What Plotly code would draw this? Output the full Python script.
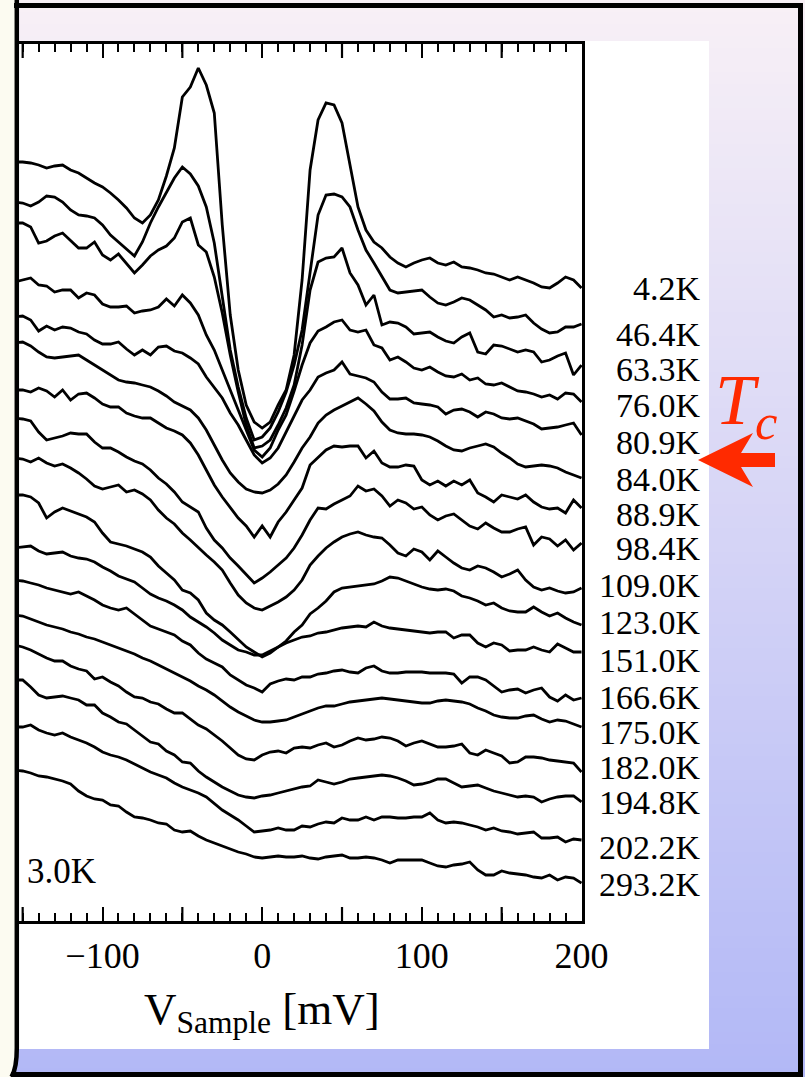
import plotly.graph_objects as go

# ---------------- data ----------------
V_MV = [-155, -150, -145, -140, -135, -130, -125, -120, -115, -110, -105, -100,
        -95, -90, -85, -80, -75, -70, -65, -60, -55, -50, -45, -40, -35, -30,
        -25, -20, -15, -10, -5, 0, 5, 10, 15, 20, 25, 30, 35, 40, 45, 50, 55,
        60, 65, 70, 75, 80, 85, 90, 95, 100, 105, 110, 115, 120, 125, 130, 135,
        140, 145, 150, 155, 160, 165, 170, 175, 180, 185, 190, 195, 200]

TEMPS = ["4.2K", "46.4K", "63.3K", "76.0K", "80.9K", "84.0K", "88.9K", "98.4K",
         "109.0K", "123.0K", "151.0K", "166.6K", "175.0K", "182.0K", "194.8K",
         "202.2K", "293.2K"]

# dI/dV spectra, vertically offset (arbitrary units)
S_4_2 = [75.9, 75.9, 75.8, 75.6, 75.3, 75.5, 75.6, 75.1, 74.8, 74.3, 73.8, 73.4, 72.8, 72.1, 71.3, 70.3, 69.8, 70.6, 72.1, 74.5, 77.3, 82.4, 83.4, 85.3, 83.6, 80.8, 69.6, 60.6, 55.1, 51.6, 49.9, 49.3, 49.9, 51.6, 53.1, 56.6, 64.1, 75.1, 80.1, 81.8, 81.6, 79.8, 75.4, 71.4, 69.1, 67.9, 67.3, 66.4, 65.8, 65.4, 65.8, 66.1, 66.3, 65.8, 65.6, 65.9, 65.4, 65.3, 65.1, 64.8, 64.7, 64.4, 64.1, 64.4, 64.1, 63.8, 63.4, 63.3, 63.8, 64.4, 64.1, 63.3]
S_46_4 = [71.9, 71.8, 71.5, 71.9, 72.5, 72.4, 71.9, 71.1, 70.6, 70.5, 70.3, 69.6, 68.6, 67.9, 67.2, 66.5, 67.9, 69.8, 71.4, 72.8, 74.3, 75.4, 74.7, 73.5, 71.4, 67.8, 62.4, 57.1, 53.4, 50.3, 48.1, 48.4, 49.3, 50.9, 52.9, 55.6, 59.1, 64.6, 70.6, 72.6, 72.7, 72.4, 71.4, 69.1, 67.1, 65.8, 64.4, 63.1, 62.8, 62.9, 63.0, 63.1, 62.4, 61.8, 61.6, 61.9, 62.3, 62.1, 61.6, 61.1, 60.4, 60.6, 60.3, 60.4, 60.6, 59.8, 59.2, 58.8, 58.9, 59.4, 59.4, 59.7]
S_63_3 = [69.8, 69.8, 69.4, 67.8, 68.0, 68.5, 68.8, 68.0, 67.3, 67.3, 67.9, 66.6, 66.1, 66.7, 65.8, 64.8, 65.6, 66.5, 67.1, 67.5, 68.3, 69.9, 70.3, 67.6, 66.9, 64.4, 60.8, 56.6, 52.9, 49.6, 47.3, 47.5, 48.1, 49.6, 51.3, 53.6, 57.6, 63.1, 65.9, 66.3, 66.4, 67.3, 64.8, 63.6, 61.6, 62.6, 59.6, 59.9, 59.8, 59.4, 58.7, 58.8, 58.9, 58.4, 58.0, 57.8, 58.4, 58.8, 56.9, 56.7, 57.6, 57.5, 57.2, 56.9, 57.1, 56.9, 55.9, 56.1, 56.5, 56.8, 54.6, 55.6]
S_76_0 = [63.9, 64.1, 64.3, 63.6, 63.5, 62.9, 63.1, 63.1, 62.3, 62.8, 62.6, 61.7, 61.4, 61.4, 61.5, 60.8, 61.0, 61.1, 61.4, 62.2, 61.5, 62.6, 61.8, 60.6, 58.6, 57.1, 55.1, 53.1, 51.1, 49.1, 47.1, 46.4, 47.3, 49.1, 50.6, 53.0, 55.6, 57.8, 59.0, 59.4, 59.9, 60.1, 59.1, 58.9, 59.1, 57.6, 57.3, 56.1, 56.4, 55.9, 55.3, 55.1, 55.4, 54.9, 54.5, 54.4, 54.7, 54.1, 54.3, 53.7, 53.6, 53.8, 53.4, 53.0, 52.9, 52.7, 52.4, 52.6, 52.2, 52.8, 52.7, 51.9]
S_80_9 = [60.4, 60.5, 60.1, 59.0, 59.5, 59.1, 59.4, 59.3, 58.9, 58.7, 58.1, 57.7, 57.7, 57.9, 57.2, 56.6, 57.1, 56.6, 57.4, 57.5, 57.0, 56.8, 56.3, 55.7, 54.4, 53.3, 52.3, 50.8, 49.6, 48.1, 46.6, 45.8, 46.3, 47.3, 48.9, 50.6, 52.1, 53.1, 54.4, 54.8, 55.1, 55.9, 54.7, 54.5, 54.3, 53.9, 52.9, 52.2, 52.2, 52.3, 51.8, 51.7, 51.6, 51.4, 50.7, 51.1, 51.2, 50.9, 50.4, 50.9, 50.7, 50.3, 50.2, 50.3, 50.0, 49.7, 49.2, 49.3, 49.4, 49.6, 49.8, 48.6]
S_84_0 = [57.8, 57.9, 57.5, 56.9, 56.4, 56.3, 56.4, 56.5, 56.6, 56.1, 55.6, 55.1, 54.6, 54.1, 53.9, 53.8, 53.6, 53.4, 53.0, 52.5, 51.9, 51.5, 51.1, 50.3, 49.1, 47.6, 46.1, 44.8, 43.9, 43.2, 42.9, 42.8, 43.1, 43.7, 44.6, 45.9, 47.3, 48.4, 49.8, 50.6, 51.1, 51.5, 51.9, 52.3, 51.7, 51.0, 49.9, 49.1, 48.8, 48.7, 48.7, 48.6, 48.4, 48.0, 47.5, 47.1, 47.0, 47.3, 47.5, 47.7, 47.4, 46.8, 46.3, 45.7, 45.4, 45.5, 45.6, 45.5, 45.3, 44.9, 44.6, 44.3]
S_88_9 = [53.1, 53.1, 52.9, 53.3, 53.0, 52.4, 53.1, 52.1, 52.7, 52.8, 52.3, 51.7, 51.4, 51.4, 50.8, 50.5, 50.3, 50.3, 49.8, 49.3, 49.0, 48.6, 47.8, 46.6, 45.1, 43.6, 42.4, 41.3, 40.3, 39.5, 38.4, 39.5, 38.4, 39.9, 40.9, 42.1, 43.3, 45.6, 46.4, 47.1, 47.5, 47.4, 47.5, 47.5, 46.3, 47.0, 45.8, 45.4, 45.4, 45.6, 45.5, 44.1, 43.6, 44.0, 43.5, 44.0, 43.6, 44.1, 42.8, 42.4, 41.9, 42.6, 42.4, 42.2, 42.6, 41.9, 41.4, 41.2, 41.3, 40.8, 42.1, 41.3]
S_98_4 = [50.3, 50.2, 50.0, 48.9, 48.1, 48.3, 48.5, 48.8, 48.7, 48.7, 47.9, 47.3, 47.3, 46.9, 46.4, 46.0, 45.7, 45.1, 44.3, 43.7, 42.9, 41.9, 41.4, 40.9, 39.3, 38.1, 37.3, 36.3, 35.5, 34.6, 33.8, 34.3, 34.9, 35.6, 36.3, 37.3, 38.6, 40.1, 41.3, 41.2, 41.7, 42.1, 42.5, 43.5, 43.0, 43.2, 42.5, 41.5, 42.1, 41.8, 41.2, 41.4, 40.6, 40.1, 40.5, 40.7, 40.1, 39.5, 39.2, 39.8, 39.3, 38.9, 38.9, 39.2, 39.4, 37.6, 38.4, 38.2, 37.5, 38.1, 37.1, 37.8]
S_109_0 = [46.3, 46.2, 45.9, 46.3, 45.8, 45.5, 45.7, 45.3, 44.8, 44.2, 43.5, 43.2, 43.4, 43.6, 42.9, 43.1, 42.7, 42.1, 41.1, 40.3, 39.7, 38.8, 38.1, 37.3, 36.6, 35.9, 35.1, 33.8, 32.6, 31.8, 31.3, 31.1, 31.5, 31.9, 32.4, 33.1, 34.1, 35.6, 36.5, 37.3, 37.9, 38.4, 38.7, 38.9, 38.6, 38.4, 38.3, 37.6, 36.8, 36.5, 37.2, 36.9, 36.1, 37.0, 36.4, 35.8, 35.3, 35.1, 35.5, 35.3, 34.9, 34.4, 34.7, 35.1, 34.1, 33.4, 33.1, 33.3, 33.0, 32.8, 32.9, 33.3]
S_123_0 = [42.6, 42.6, 42.4, 41.8, 40.3, 40.9, 41.3, 41.0, 40.7, 40.4, 39.9, 38.8, 37.9, 37.7, 37.5, 37.2, 36.9, 36.4, 35.5, 34.8, 34.1, 33.1, 32.8, 32.1, 30.8, 30.1, 29.6, 28.9, 28.1, 27.4, 26.9, 26.4, 26.8, 27.4, 28.0, 28.9, 29.6, 30.7, 31.3, 32.0, 32.9, 33.3, 33.4, 33.5, 33.6, 33.7, 34.0, 34.4, 34.3, 34.0, 33.7, 33.4, 33.2, 33.1, 33.2, 33.0, 32.5, 32.3, 32.0, 31.6, 31.8, 31.3, 31.0, 30.9, 30.9, 31.4, 30.9, 30.5, 30.8, 30.3, 29.9, 29.6]
S_151_0 = [37.3, 37.4, 37.5, 37.0, 36.7, 36.8, 36.9, 36.5, 36.3, 36.2, 35.9, 35.4, 35.0, 34.5, 34.2, 33.9, 33.3, 32.7, 32.3, 32.0, 31.6, 31.1, 30.4, 29.9, 29.4, 28.8, 28.1, 27.6, 27.1, 26.9, 26.6, 26.6, 27.0, 27.4, 27.8, 28.1, 28.4, 28.5, 28.8, 28.9, 29.1, 29.3, 29.4, 29.5, 29.4, 29.9, 29.5, 29.3, 29.2, 29.1, 29.0, 28.9, 28.8, 28.9, 28.9, 28.3, 28.6, 28.6, 27.8, 27.4, 27.8, 27.6, 27.0, 27.1, 27.1, 27.4, 27.1, 26.9, 27.7, 27.3, 26.9, 26.9]
S_166_6 = [34.1, 34.0, 33.8, 33.6, 33.3, 33.1, 32.9, 32.7, 32.9, 32.5, 32.1, 31.6, 31.3, 31.1, 31.3, 30.7, 30.1, 29.5, 29.2, 28.9, 28.6, 28.0, 27.6, 26.8, 26.2, 25.8, 25.4, 24.6, 24.1, 23.6, 23.3, 22.9, 23.7, 24.0, 24.2, 24.1, 24.4, 24.4, 24.7, 24.8, 25.0, 25.1, 24.9, 24.8, 25.3, 25.5, 25.0, 24.8, 24.8, 24.9, 24.9, 24.9, 24.8, 24.8, 24.8, 24.7, 23.8, 24.4, 24.4, 24.1, 23.5, 22.9, 23.1, 23.2, 22.8, 23.1, 23.3, 22.4, 22.0, 22.6, 22.1, 22.3]
S_175_0 = [30.6, 30.5, 30.2, 29.9, 29.6, 29.4, 29.2, 28.9, 28.7, 28.4, 28.2, 27.9, 27.6, 27.3, 27.0, 26.7, 26.3, 26.0, 25.6, 25.2, 24.8, 24.4, 24.0, 23.5, 23.1, 22.6, 22.0, 21.4, 20.9, 20.5, 20.1, 19.9, 19.9, 20.0, 20.1, 20.4, 20.7, 21.0, 21.3, 21.5, 21.5, 21.7, 21.9, 22.0, 22.1, 22.2, 22.3, 22.2, 22.1, 22.0, 21.9, 21.8, 21.8, 22.0, 22.1, 22.0, 21.9, 21.7, 21.3, 21.0, 20.6, 20.4, 20.3, 20.3, 20.5, 20.6, 20.2, 19.9, 20.1, 20.0, 19.7, 19.4]
S_182_0 = [27.6, 27.4, 27.1, 26.7, 26.3, 26.0, 26.0, 25.5, 25.2, 25.0, 24.2, 24.4, 23.9, 23.5, 22.9, 22.4, 22.3, 21.9, 21.7, 21.2, 20.8, 20.8, 20.2, 19.6, 19.2, 18.6, 18.0, 17.3, 16.6, 16.2, 16.1, 16.6, 16.9, 17.0, 16.8, 17.3, 17.4, 17.3, 17.6, 17.8, 17.4, 17.6, 18.0, 18.3, 18.1, 18.2, 18.4, 18.3, 18.0, 17.5, 17.8, 18.0, 17.7, 17.4, 17.4, 17.5, 17.7, 16.8, 16.6, 17.1, 16.8, 16.5, 15.8, 15.9, 16.4, 16.4, 16.3, 16.1, 16.0, 15.9, 15.8, 14.9]
S_194_8 = [24.1, 24.1, 23.4, 22.6, 22.3, 22.4, 22.5, 22.3, 22.1, 21.6, 21.6, 20.8, 20.4, 19.9, 19.7, 19.1, 18.5, 17.9, 17.7, 17.0, 16.6, 15.9, 15.8, 15.0, 14.4, 13.9, 13.4, 13.0, 12.6, 12.4, 12.3, 12.5, 12.6, 12.8, 13.0, 13.2, 13.4, 13.5, 14.1, 13.9, 13.7, 13.9, 14.2, 14.3, 14.4, 14.5, 14.6, 14.5, 14.3, 14.0, 13.6, 13.7, 13.9, 14.2, 14.2, 13.8, 13.4, 13.5, 13.6, 13.3, 13.0, 12.8, 12.6, 12.4, 12.5, 12.4, 11.9, 12.2, 12.4, 12.5, 12.5, 11.9]
S_202_2 = [19.4, 19.4, 19.6, 19.1, 18.8, 18.6, 18.8, 18.4, 18.1, 17.8, 17.4, 16.9, 16.6, 16.4, 16.1, 15.7, 15.3, 14.9, 14.6, 14.3, 13.8, 13.4, 13.1, 12.8, 12.4, 11.7, 11.1, 10.6, 10.1, 9.5, 8.9, 9.0, 9.1, 9.3, 9.1, 9.1, 9.5, 9.4, 9.7, 9.9, 9.8, 10.3, 10.1, 10.1, 10.4, 10.1, 10.4, 10.4, 10.3, 10.3, 10.4, 10.4, 10.8, 10.1, 9.8, 9.9, 9.8, 9.6, 9.4, 9.1, 9.3, 9.0, 8.9, 8.7, 8.8, 8.9, 8.3, 8.3, 8.4, 7.9, 8.2, 8.1]
S_293_2 = [15.1, 15.0, 14.8, 14.5, 14.4, 14.2, 14.0, 13.7, 13.0, 12.5, 12.2, 12.1, 11.6, 11.5, 10.9, 10.4, 10.3, 10.1, 9.8, 9.7, 9.1, 8.9, 9.0, 8.5, 8.1, 7.8, 7.5, 7.2, 6.9, 6.7, 6.4, 6.3, 6.4, 6.5, 6.4, 6.4, 6.5, 6.3, 6.2, 6.4, 6.5, 6.6, 6.3, 6.3, 6.4, 6.3, 6.1, 5.8, 6.1, 6.1, 6.1, 6.1, 5.8, 5.5, 5.4, 5.6, 5.7, 5.9, 5.1, 4.6, 4.6, 5.0, 4.8, 4.7, 4.6, 4.4, 4.3, 4.6, 4.1, 4.4, 4.3, 3.8]

SPECTRA = [S_4_2, S_46_4, S_63_3, S_76_0, S_80_9, S_84_0, S_88_9, S_98_4,
           S_109_0, S_123_0, S_151_0, S_166_6, S_175_0, S_182_0, S_194_8,
           S_202_2, S_293_2]

# where each temperature label sits (same units as the spectra)
LABEL_Y = [63.3, 58.7, 55.2, 51.6, 47.9, 44.2, 40.7, 37.3, 33.6, 29.9, 26.1,
           22.4, 18.9, 15.4, 11.9, 7.4, 3.7]

LABELED_TICKS = [-100, 0, 100, 200]
LABELED_TEXT = ["\u2212100", "0", "100", "200"]
UNLABELED_MAJOR = [-150, -50, 50, 150]

# ---------------- layout geometry (pixels of the 805x1077 page) ----------------
W, H = 805, 1077
PL, PR, PT, PB = 19, 582, 44, 921
SERIF = "Liberation Serif, Times New Roman, serif"
MAJOR_LEN, MINOR_LEN = 14, 8


def xp(px):
    return (px - PL) / (PR - PL)


def yp(py):
    return (PB - py) / (PB - PT)


fig = go.Figure()
for name, s in zip(TEMPS, SPECTRA):
    fig.add_trace(go.Scatter(x=V_MV, y=s, mode="lines", name=name,
                             line=dict(color="black", width=2.8),
                             hoverinfo="skip"))

shapes = []
# background gradient (pink at top -> periwinkle at bottom)
top_c = (248, 240, 246)
bot_c = (178, 184, 246)
band = 12
n = (H + band - 1) // band
for i in range(n):
    t = (i + 0.5) * band / H
    c = tuple(round(top_c[k] + (bot_c[k] - top_c[k]) * t) for k in range(3))
    shapes.append(dict(type="rect", xref="paper", yref="paper", layer="below",
                       x0=xp(0), x1=xp(W), y0=yp(i * band), y1=yp(min(H, (i + 1) * band + 1)),
                       line=dict(width=0), fillcolor="rgb(%d,%d,%d)" % c))
# white figure sheet
shapes.append(dict(type="rect", xref="paper", yref="paper", layer="below",
                   x0=xp(19), x1=xp(709), y0=yp(41), y1=yp(1049),
                   line=dict(width=0), fillcolor="white"))
# cream strip at the far left
shapes.append(dict(type="rect", xref="paper", yref="paper", layer="below",
                   x0=xp(0), x1=xp(15), y0=yp(0), y1=yp(H),
                   line=dict(width=0), fillcolor="#fcfbf1"))
# long unlabeled ticks (every 50 mV between the labeled ones), bottom and top
for v in UNLABELED_MAJOR:
    shapes.append(dict(type="line", xref="x", yref="paper", layer="above",
                       x0=v, x1=v, y0=0, y1=MAJOR_LEN / (PB - PT),
                       line=dict(color="black", width=2.2)))
    shapes.append(dict(type="line", xref="x", yref="paper", layer="above",
                       x0=v, x1=v, y0=1, y1=1 - MAJOR_LEN / (PB - PT),
                       line=dict(color="black", width=2.2)))
# black frame
for (x0, x1, y0, y1) in [(14, 803, 3, 8), (798, 803, 3, 1077), (11, 803, 1072, 1077)]:
    shapes.append(dict(type="rect", xref="paper", yref="paper", layer="above",
                       x0=xp(x0), x1=xp(x1), y0=yp(y0), y1=yp(y1),
                       line=dict(width=0), fillcolor="black"))
left_path = "M %f,%f L %f,%f Q %f,%f %f,%f" % (
    xp(16.8), yp(0), xp(16.8), yp(1048), xp(16.8), yp(1068), xp(11.5), yp(1077))
shapes.append(dict(type="path", xref="paper", yref="paper", layer="above",
                   path=left_path, line=dict(color="black", width=4.5)))
# red arrow pointing at Tc
pts = [(698, 460), (753, 433), (741, 453), (775, 453), (775, 467), (741, 467), (753, 487)]
arrow = "M " + " L ".join("%f,%f" % (xp(a), yp(b)) for a, b in pts) + " Z"
shapes.append(dict(type="path", xref="paper", yref="paper", layer="above",
                   path=arrow, line=dict(width=0), fillcolor="#ff2a00"))

annotations = []
for name, ly in zip(TEMPS, LABEL_Y):
    annotations.append(dict(x=xp(703), xref="paper", y=ly, yref="y",
                            text=name, showarrow=False, xanchor="right",
                            yanchor="middle",
                            font=dict(family=SERIF, size=34, color="black")))
annotations.append(dict(x=xp(98), xref="paper", y=5.0, yref="y", text="3.0K",
                        showarrow=False, xanchor="right", yanchor="middle",
                        font=dict(family=SERIF, size=35, color="black")))
annotations.append(dict(x=0, xref="x", y=yp(1012), yref="paper",
                        text="V<sub>Sample</sub> [mV]", showarrow=False,
                        xanchor="center", yanchor="middle",
                        font=dict(family=SERIF, size=45, color="black")))
annotations.append(dict(x=xp(713), xref="paper", y=yp(405), yref="paper",
                        text="<i>T</i><sub><i>c</i></sub>", showarrow=False,
                        xanchor="left", yanchor="middle",
                        font=dict(family=SERIF, size=72, color="#ff2a00")))

fig.update_layout(
    width=W, height=H, autosize=False,
    margin=dict(l=PL, r=W - PR, t=PT, b=H - PB, pad=0),
    paper_bgcolor="rgb(215,212,246)",
    plot_bgcolor="rgba(0,0,0,0)",
    showlegend=False,
    shapes=shapes,
    annotations=annotations,
    xaxis=dict(range=[-152.3, 200.3], showline=True, linewidth=2.6,
               linecolor="black", mirror="ticks", ticks="inside",
               ticklen=MAJOR_LEN, tickwidth=2.2, tickcolor="black",
               tickvals=LABELED_TICKS, ticktext=LABELED_TEXT,
               tickfont=dict(family=SERIF, size=36, color="black"),
               ticklabelstandoff=1, showgrid=False, zeroline=False,
               minor=dict(ticks="inside", ticklen=MINOR_LEN, tickwidth=2,
                          dtick=10, tick0=0, tickcolor="black", showgrid=False)),
    yaxis=dict(range=[0, 87.7], side="right", showline=True, linewidth=2.6,
               linecolor="black", ticks="", showticklabels=False,
               showgrid=False, zeroline=False),
)

fig.write_html("out.html")
